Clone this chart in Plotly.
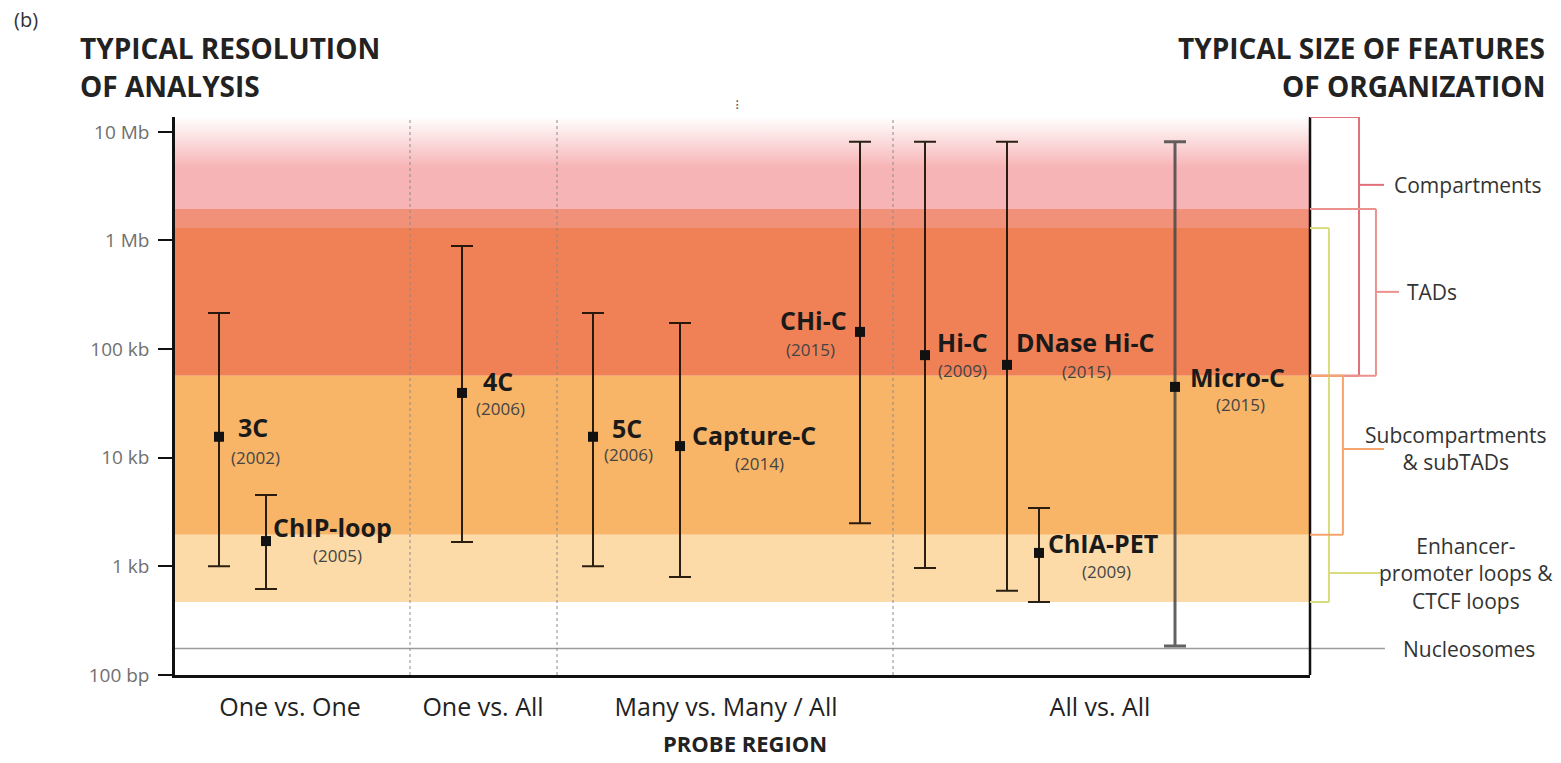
import numpy as np
import plotly.graph_objects as go

# ---------------- data ----------------
methods = ["3C", "ChIP-loop", "4C", "5C", "Capture-C", "CHi-C", "Hi-C", "DNase Hi-C", "ChIA-PET", "Micro-C"]
years = ["(2002)", "(2005)", "(2006)", "(2006)", "(2014)", "(2015)", "(2009)", "(2015)", "(2009)", "(2015)"]
x_pos = [44, 91, 287, 418, 505, 685, 750, 832, 864, 1000]
typical_res = [15.6e3, 1.71e3, 39.5e3, 15.6e3, 12.8e3, 144e3, 88e3, 71.6e3, 1.33e3, 44.9e3]
res_low = [1.0e3, 620, 1.68e3, 1.0e3, 800, 2.5e3, 966, 595, 470, 185]
res_high = [215e3, 4.54e3, 890e3, 215e3, 174e3, 8.1e6, 8.1e6, 8.1e6, 3.45e3, 8.1e6]

categories = ["One vs. One", "One vs. All", "Many vs. Many / All", "All vs. All"]
category_x = [115, 308, 551, 925]
separators_x = [235, 382, 718]

y_tickvals = [100, 1e3, 1e4, 1e5, 1e6, 1e7]
y_ticktext = ["100 bp", "1 kb", "10 kb", "100 kb", "1 Mb", "10 Mb"]

# feature size ranges (bp)
compartments = [57e3, 13.7e6]
tads = [57e3, 1.95e6]
subcompartments = [1.95e3, 57e3]
enhancer_loops = [470, 1.3e6]
nucleosome = 175

# ---------------- style ----------------
FONT = "Open Sans"
XMAX = 1135
YTOP = 13.7e6
PLOT_H = 558

# label offsets (pixels) : (anchor, dx, dy) for names and (dx, dy) for years
name_off = [("left", 17, 10), ("left", 5, 14), ("left", 19, 12), ("left", 17, 9), ("left", 10, 11),
            ("right", -11, 12), ("left", 10, 13), ("left", 7, 23), ("left", 7, 10), ("left", 13, 10)]
year_off = [(36, -21), (71, -14), (38, -16), (35, -18), (79, -17), (-50, -18), (37, -15), (79, -7), (67, -19), (65, -18)]

fig = go.Figure()

# pink gradient band (compartments only)
fig.add_trace(go.Scatter(
    x=[0, XMAX, XMAX, 0, 0], y=[tads[1], tads[1], YTOP, YTOP, tads[1]],
    mode="lines", fill="toself", line=dict(width=0),
    fillgradient=dict(type="vertical", colorscale=[[0, "#f7b4b6"], [0.45, "#f7b4b6"], [1, "#ffffff"]]),
    hoverinfo="skip", showlegend=False))

shapes = []
def band(y0, y1, color):
    shapes.append(dict(type="rect", xref="x", yref="y", x0=0, x1=XMAX, y0=y0, y1=y1,
                       fillcolor=color, line=dict(width=0), layer="below"))

band(enhancer_loops[1], tads[1], "#f2917a")
band(tads[0], enhancer_loops[1], "#f08056")
band(subcompartments[0], subcompartments[1], "#f8b467")
band(enhancer_loops[0], subcompartments[0], "#fcdba9")

for sx in separators_x:
    shapes.append(dict(type="line", xref="x", yref="paper", x0=sx, x1=sx, y0=0, y1=1,
                       line=dict(color="#8a8a8a", width=1, dash="3px,3px"), layer="above"))

# nucleosome line
shapes.append(dict(type="line", xref="paper", yref="y", x0=0, x1=1.066, y0=nucleosome, y1=nucleosome,
                   line=dict(color="#9c9c9c", width=1.5), layer="below"))

# right border
shapes.append(dict(type="line", xref="paper", yref="paper", x0=1.0, x1=1.0, y0=0, y1=1,
                   line=dict(color="#111111", width=2.5)))

def bracket(rng, xr, xt, ytick, color):
    lo, hi = rng
    for seg in [(1.0, hi, xr, hi), (xr, hi, xr, lo), (xr, lo, 1.0, lo), (xr, ytick, xt, ytick)]:
        shapes.append(dict(type="line", xref="paper", yref="y", x0=seg[0], y0=seg[1], x1=seg[2], y1=seg[3],
                           line=dict(color=color, width=2)))

bracket(compartments, 1.0432, 1.0652, 10 ** 6.512, "#e2707a")
bracket(tads, 1.0581, 1.0784, 10 ** 5.527, "#eb918e")
bracket(enhancer_loops, 1.0167, 1.0634, 10 ** 2.939, "#d9dc7c")
bracket(subcompartments, 1.029, 1.0652, 10 ** 4.081, "#f4a56e")

# method whiskers + markers
for i, m in enumerate(methods):
    col = "rgba(70,70,70,0.85)" if m == "Micro-C" else "rgba(25,15,5,0.92)"
    lw = 3 if m == "Micro-C" else 2
    fig.add_trace(go.Scatter(
        x=[x_pos[i]], y=[typical_res[i]], mode="markers",
        marker=dict(symbol="square", size=10, color="#111111"),
        error_y=dict(type="data", symmetric=False,
                     array=[res_high[i] - typical_res[i]], arrayminus=[typical_res[i] - res_low[i]],
                     color=col, thickness=lw, width=11),
        showlegend=False, hoverinfo="skip"))

annotations = []
for i, m in enumerate(methods):
    anc, dx, dy = name_off[i]
    annotations.append(dict(x=x_pos[i], y=np.log10(typical_res[i]), xref="x", yref="y", text="<b>%s</b>" % m,
                            showarrow=False, xanchor=anc, yanchor="middle", xshift=dx, yshift=dy,
                            font=dict(family=FONT, size=25, color="#1a1a1a")))
    ydx, ydy = year_off[i]
    annotations.append(dict(x=x_pos[i], y=np.log10(typical_res[i]), xref="x", yref="y", text=years[i],
                            showarrow=False, xanchor="center", yanchor="middle", xshift=ydx, yshift=ydy,
                            font=dict(family=FONT, size=17, color="#444444")))

# feature labels
feat_font = dict(family=FONT, size=21, color="#333333")
annotations += [
    dict(x=1.0723, y=6.512, xref="paper", yref="y", text="Compartments", xanchor="left", showarrow=False, font=feat_font),
    dict(x=1.0837, y=5.527, xref="paper", yref="y", text="TADs", xanchor="left", showarrow=False, font=feat_font),
    dict(x=1.1286, y=4.081, xref="paper", yref="y", text="Subcompartments<br>& subTADs", xanchor="center",
         align="center", showarrow=False, font=feat_font),
    dict(x=1.1374, y=2.939, xref="paper", yref="y", text="Enhancer-<br>promoter loops &<br>CTCF loops",
         xanchor="center", align="center", showarrow=False, font=feat_font),
    dict(x=1.140, y=np.log10(nucleosome), xref="paper", yref="y", text="Nucleosomes", xanchor="center",
         showarrow=False, font=feat_font),
]

# titles (one annotation per line to control spacing)
title_font = dict(family=FONT, size=28, color="#222222")
for txt, yy in [("TYPICAL RESOLUTION", 48), ("OF ANALYSIS", 86)]:
    annotations.append(dict(x=-0.0855, y=(675 - yy) / PLOT_H, xref="paper", yref="paper", text="<b>%s</b>" % txt,
                            xanchor="left", yanchor="middle", showarrow=False, font=title_font))
for txt, yy in [("TYPICAL SIZE OF FEATURES", 48), ("OF ORGANIZATION", 86)]:
    annotations.append(dict(x=1.2088, y=(675 - yy) / PLOT_H, xref="paper", yref="paper", text="<b>%s</b>" % txt,
                            xanchor="right", yanchor="middle", showarrow=False, font=title_font))
annotations += [
    dict(x=-0.1436, y=(675 - 19) / PLOT_H, xref="paper", yref="paper", text="(b)", xanchor="left", yanchor="middle",
         showarrow=False, font=dict(family=FONT, size=20, color="#333333")),
    dict(x=0.4952, y=1.0215, xref="paper", yref="paper", text="⁝", xanchor="center", yanchor="middle",
         showarrow=False, font=dict(family="DejaVu Sans", size=14, color="#555555")),
    dict(x=0.5026, y=(675 - 743) / PLOT_H, xref="paper", yref="paper", text="<b>PROBE REGION</b>", xanchor="center",
         yanchor="middle", showarrow=False, font=dict(family=FONT, size=22, color="#222222")),
]

fig.update_layout(
    width=1561, height=763,
    margin=dict(l=175, r=251, t=117, b=88),
    paper_bgcolor="white", plot_bgcolor="white",
    shapes=shapes, annotations=annotations,
    xaxis=dict(range=[0, XMAX], tickvals=category_x, ticktext=categories, ticks="",
               showline=True, linecolor="#111111", linewidth=2.5, showgrid=False, zeroline=False,
               tickfont=dict(family=FONT, size=25, color="#222222"), ticklabelstandoff=8, fixedrange=True),
    yaxis=dict(type="log", range=[2, np.log10(YTOP)], tickvals=y_tickvals, ticktext=y_ticktext,
               ticks="outside", ticklen=14, tickwidth=2, tickcolor="#111111", ticklabelstandoff=5,
               showline=True, linecolor="#111111", linewidth=2.5, showgrid=False, zeroline=False,
               tickfont=dict(family=FONT, size=19, color="#707070"), fixedrange=True),
)

fig.write_html("out.html", config={"displayModeBar": False},
               post_script="document.body.style.margin='0px';document.body.style.overflow='hidden';")
